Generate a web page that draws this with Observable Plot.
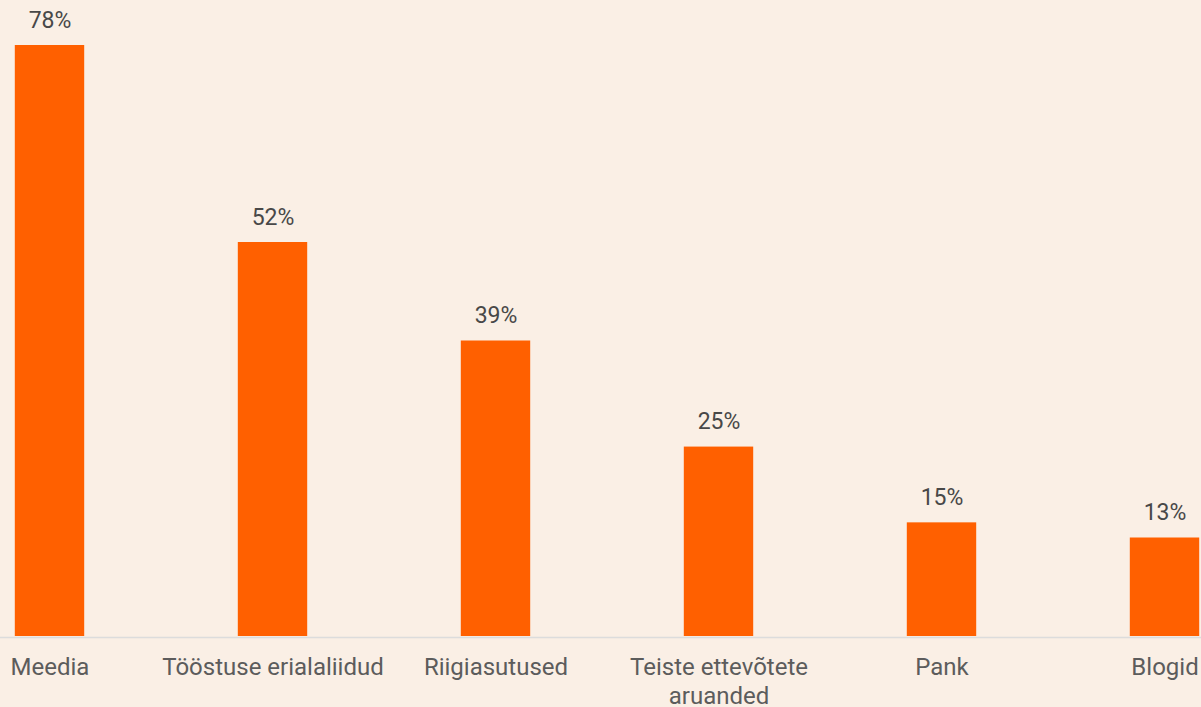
<!DOCTYPE html>
<html>
<head>
<meta charset="utf-8">
<script src="https://cdn.jsdelivr.net/npm/d3@7"></script>
<script src="https://cdn.jsdelivr.net/npm/@observablehq/plot@0.6"></script>
<style>
  html, body { margin: 0; padding: 0; background: #FAEFE5; }
  #chart svg { display: block; }
</style>
</head>
<body>
<div id="chart"></div>
<script>
const categories = ["Meedia", "Tööstuse erialaliidud", "Riigiasutused", "Teiste ettevõtete aruanded", "Pank", "Blogid"];
const tickLabels = ["Meedia", "Tööstuse erialaliidud", "Riigiasutused", "Teiste ettevõtete\naruanded", "Pank", "Blogid"];
const values = [78, 52, 39, 25, 15, 13];

const data = categories.map((c, i) => ({category: c, value: values[i], label: tickLabels[i]}));

const chart = Plot.plot({
  width: 1201,
  height: 707,
  margin: 0,
  style: {background: "#FAEFE5", fontFamily: "Roboto, sans-serif"},
  x: {domain: categories, range: [-63.8, 1277.8], padding: 0, axis: null},
  y: {domain: [0, 78], range: [636, 45], axis: null},
  marks: [
    Plot.barY(data, {x: "category", y: "value", fill: "#FF6000", insetLeft: 76.8, insetRight: 76.8}),
    Plot.ruleY([0], {stroke: "#DCDCDC", strokeWidth: 1.5, dy: 1}),
    Plot.text(data, {x: "category", y: "value", text: d => d.value + "%", dy: -25, fontSize: 23, fill: "#484848"}),
    Plot.text(data, {x: "category", y: 0, text: "label", dy: 19, fontSize: 24, fill: "#5C5C5C", lineHeight: 1.17, lineAnchor: "top"})
  ]
});
document.getElementById("chart").appendChild(chart);
</script>
</body>
</html>
